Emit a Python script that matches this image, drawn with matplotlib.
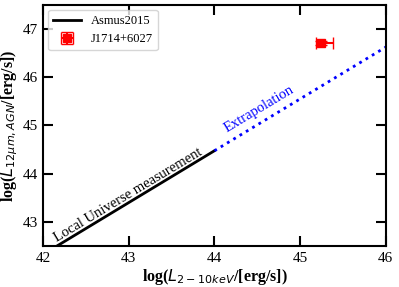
import numpy as np
import matplotlib
matplotlib.use("Agg")
import matplotlib.pyplot as plt

plt.rcParams['font.family'] = ['Liberation Serif', 'DejaVu Serif']
plt.rcParams['mathtext.fontset'] = 'dejavusans'

# Asmus 2015 relation: log L12 = 43 + a + b*(log LX - 43)
a_rel = 0.40
b_rel = 1.075

x_local = np.array([42.0, 44.0])
x_extra = np.array([44.0, 46.0])
y_local = 43 + a_rel + b_rel * (x_local - 43)
y_extra = 43 + a_rel + b_rel * (x_extra - 43)

src_x = [45.24]
src_y = [46.71]
src_xerr = [[0.06], [0.14]]
src_yerr = [[0.04], [0.04]]

fig, ax = plt.subplots(figsize=(3.99, 2.87), dpi=100)

ax.plot(x_local, y_local, color='black', lw=2, label='Asmus2015')
ax.plot(x_extra, y_extra, color='blue', lw=2, ls=':')
ax.errorbar(src_x, src_y, xerr=src_xerr, yerr=src_yerr, fmt='s', color='red',
            ms=6, capsize=4, elinewidth=1.5, label='J1714+6027')

ax.text(42.99, 43.56, 'Local Universe measurement', rotation=31, fontsize=10.5,
        ha='center', va='center', rotation_mode='anchor')
ax.text(44.52, 45.33, 'Extrapolation', rotation=31, fontsize=10.5, color='blue',
        ha='center', va='center', rotation_mode='anchor')

ax.set_xlim(42, 46)
ax.set_ylim(42.5, 47.5)
ax.set_xticks([42, 43, 44, 45, 46])
ax.set_yticks([43, 44, 45, 46, 47])
ax.tick_params(direction='in', top=True, right=True, length=7, width=1.5,
               labelsize=11, pad=4)
for s in ax.spines.values():
    s.set_linewidth(1.5)

ax.set_xlabel(r'log($L_{2-10keV}$/[erg/s])', fontsize=11.5, fontweight='bold', labelpad=2)
ax.set_ylabel(r'log($L_{12\mu m, AGN}$/[erg/s])', fontsize=11.5, fontweight='bold', labelpad=2)
ax.legend(loc='upper left', fontsize=9, handlelength=2.2, borderaxespad=0.4)

fig.subplots_adjust(left=0.108, right=0.967, top=0.983, bottom=0.143)
fig.savefig('out.png', dpi=100)
